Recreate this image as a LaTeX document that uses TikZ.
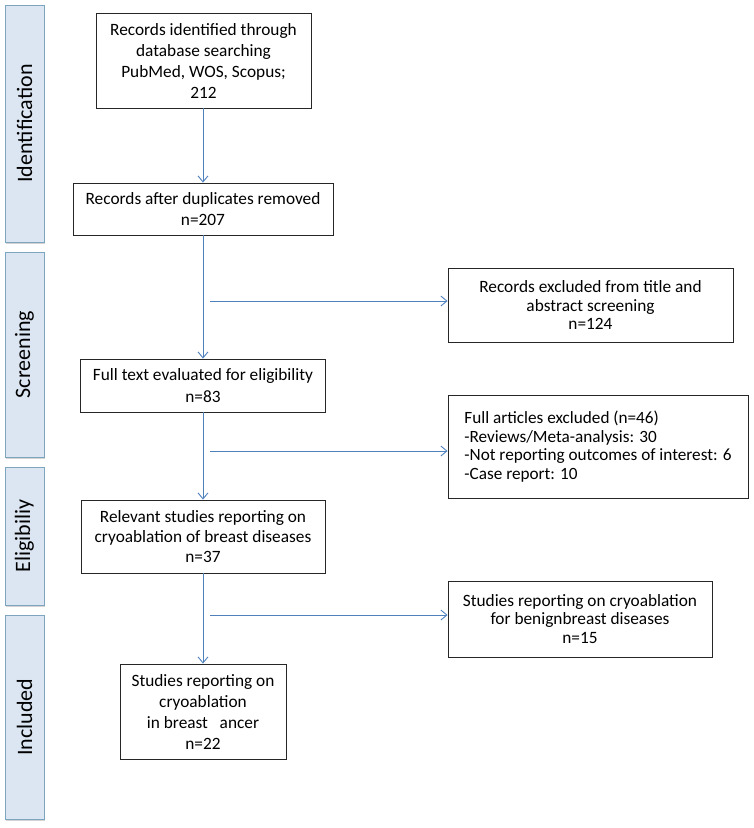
\documentclass[tikz,border=0pt]{standalone}
\usepackage{fontspec}
\setmainfont{Carlito}
\usetikzlibrary{arrows.meta,shadows}
\definecolor{arrowblue}{RGB}{79,129,189}
\definecolor{barfill}{RGB}{220,230,242}
\definecolor{bardraw}{RGB}{125,165,190}
\tikzset{
  stagebar/.style={draw=bardraw, fill=barfill, line width=0.9pt,
    drop shadow={shadow xshift=1pt, shadow yshift=-1.5pt, opacity=0.35},
    inner sep=0pt},
  stagelabel/.style={rotate=90, font=\fontsize{22}{26}\selectfont},
  flowbox/.style={draw=black!85, line width=0.9pt, align=center, inner sep=0pt,
    font=\fontsize{17.3}{20.5}\selectfont},
  flowline/.style={draw=arrowblue, line width=0.9pt},
  flowarrow/.style={flowline, -{Straight Barb[length=6pt,width=10pt]}}
}
\begin{document}
\begin{tikzpicture}[x=1pt,y=-1pt]
\useasboundingbox (0,0) rectangle (753,828);
% stage bars
\node[stagebar, minimum width=39pt, minimum height=237pt] (sid) at (24.5,123.5) {};
\node[stagelabel] (tid) at (sid.center) {Identification};
\node[stagebar, minimum width=39pt, minimum height=205pt] (ssc) at (24.5,354.5) {};
\node[stagelabel] (tsc) at (ssc.center) {Screening};
\node[stagebar, minimum width=39pt, minimum height=138pt] (sel) at (24.5,536) {};
\node[stagelabel] (tel) at (sel.center) {Eligibiliy};
\node[stagebar, minimum width=39pt, minimum height=204pt] (sin) at (24.5,717) {};
\node[stagelabel] (tin) at (sin.center) {Included};
% main column
\node[flowbox, minimum width=215pt, minimum height=95pt, font=\fontsize{17.3}{21}\selectfont] (b1) at (203.5,60.5)
  {Records identified through\\database searching\\PubMed, WOS, Scopus;\\212};
\node[flowbox, minimum width=260pt, minimum height=52pt] (b2) at (203,209)
  {Records after duplicates removed\\n=207};
\node[flowbox, minimum width=245pt, minimum height=53pt, font=\fontsize{17.3}{21.5}\selectfont] (b3) at (203,385.5)
  {Full text evaluated for eligibility\\n=83};
\node[flowbox, minimum width=244pt, minimum height=73pt, font=\fontsize{17.3}{20}\selectfont] (b4) at (203,536.5)
  {Relevant studies reporting on\\cryoablation of breast diseases\\n=37};
\node[flowbox, minimum width=166pt, minimum height=95pt, font=\fontsize{17.3}{21}\selectfont] (b5) at (203,711.5)
  {Studies reporting on\\cryoablation\\in breast\ \ \ ancer\\n=22};
% right column
\node[flowbox, minimum width=285pt, minimum height=74pt, font=\fontsize{17.3}{18.5}\selectfont] (r1) at (590.5,305)
  {Records excluded from title and\\abstract screening\\n=124};
\node[flowbox, minimum width=300pt, minimum height=103pt, align=left, font=\fontsize{17.2}{18.5}\selectfont] (r2) at (598,446.5)
  {Full articles excluded (n=46)\\-Reviews/Meta-analysis: 30\\-Not reporting outcomes of interest: 6\\-Case report: 10};
\node[flowbox, minimum width=264pt, minimum height=76pt, font=\fontsize{17.3}{18.5}\selectfont] (r3) at (580,619)
  {Studies reporting on cryoablation\\for benignbreast diseases\\n=15};
% branch start points
\coordinate (c1) at (210,301);
\coordinate (c2) at (210,451);
\coordinate (c3) at (210,615);
% connectors
\draw[flowarrow] (b1.south -| b2.north) -- (b2.north);
\draw[flowarrow] (b2.south) -- (b3.north);
\draw[flowarrow] (b3.south) -- (b4.north);
\draw[flowarrow] (b4.south) -- (b5.north);
\draw[flowarrow] (c1) -- (c1 -| r1.west);
\draw[flowarrow] (c2) -- (c2 -| r2.west);
\draw[flowarrow] (c3) -- (c3 -| r3.west);
\end{tikzpicture}
\end{document}
